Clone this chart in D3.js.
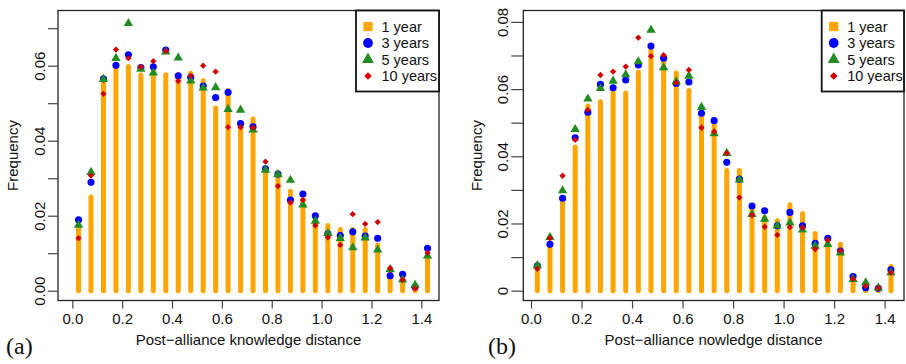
<!DOCTYPE html>
<html>
<head>
<meta charset="utf-8">
<script src="https://cdn.jsdelivr.net/npm/d3@7"></script>
<style>
  body { margin: 0; background: #fff; }
  svg { display: block; }
  text { font-family: "Liberation Sans", Arial, sans-serif; fill: #111; }
</style>
</head>
<body>
<svg width="906" height="364"></svg>
<script>
// *** Data ***
var binMids = [0.025, 0.075, 0.125, 0.175, 0.225, 0.275, 0.325, 0.375, 0.425, 0.475,
               0.525, 0.575, 0.625, 0.675, 0.725, 0.775, 0.825, 0.875, 0.925, 0.975,
               1.025, 1.075, 1.125, 1.175, 1.225, 1.275, 1.325, 1.375, 1.425];

var seriesNames = ["1 year", "3 years", "5 years", "10 years"];

// panel (a)
var year1A = [0.0165, 0.025, 0.0553, 0.059, 0.0598, 0.0575, 0.0583, 0.0576, 0.0575, 0.058,
              0.056, 0.0487, 0.0534, 0.044, 0.0458, 0.0316, 0.0315, 0.0265, 0.0243, 0.0192,
              0.0174, 0.0163, 0.0163, 0.0163, 0.0122, 0.0053, 0.0038, 0.0008, 0.0085];
var year3A = [0.0189, 0.0289, 0.0565, 0.0601, 0.0629, 0.0595, 0.0597, 0.0642, 0.0573, 0.0569,
              0.0546, 0.0515, 0.0529, 0.0446, 0.0437, 0.0325, 0.0311, 0.0242, 0.0258, 0.0200,
              0.0152, 0.0147, 0.0157, 0.0146, 0.014, 0.004, 0.0044, 0.001, 0.0113];
var year5A = [0.0175, 0.0316, 0.0564, 0.062, 0.0713, 0.0591, 0.0581, 0.0637, 0.0621, 0.056,
              0.0541, 0.0542, 0.0484, 0.0482, 0.0429, 0.0322, 0.031, 0.0295, 0.0229, 0.0186,
              0.0153, 0.014, 0.0115, 0.0141, 0.0109, 0.0057, 0.0029, 0.0015, 0.0093];
var year10A = [0.014, 0.0307, 0.0525, 0.0643, 0.062, 0.0597, 0.0612, 0.0639, 0.0559, 0.0573,
               0.06, 0.0584, 0.0436, 0.0436, 0.0435, 0.0344, 0.0279, 0.0235, 0.0242, 0.0174,
               0.0142, 0.0122, 0.0204, 0.0178, 0.0183, 0.006, 0.0029, 0.0006, 0.0101];

// panel (b)
var year1B = [0.0063, 0.0128, 0.0268, 0.0428, 0.055, 0.0562, 0.059, 0.0588, 0.065, 0.0715,
              0.0685, 0.0648, 0.0596, 0.0515, 0.0492, 0.0358, 0.0358, 0.024, 0.0218, 0.0208,
              0.0256, 0.023, 0.017, 0.0145, 0.0138, 0.0033, 0.001, 0.0005, 0.0072];
var year3B = [0.0074, 0.0138, 0.0275, 0.0455, 0.0531, 0.0614, 0.0604, 0.0627, 0.0672, 0.0728,
              0.0692, 0.0617, 0.0621, 0.0528, 0.0506, 0.0382, 0.0332, 0.0252, 0.0238, 0.0193,
              0.0233, 0.0193, 0.0141, 0.0156, 0.0118, 0.0042, 0.0009, 0.0007, 0.0062];
var year5B = [0.0075, 0.0159, 0.0298, 0.048, 0.0571, 0.0602, 0.0624, 0.0643, 0.0682, 0.0776,
              0.0664, 0.0622, 0.0639, 0.0546, 0.0468, 0.0409, 0.033, 0.0227, 0.0213, 0.0193,
              0.0202, 0.0181, 0.0133, 0.0138, 0.0113, 0.0034, 0.0024, 0.0008, 0.0054];
var year10B = [0.0065, 0.0156, 0.0342, 0.0449, 0.0538, 0.0642, 0.0652, 0.0667, 0.0753, 0.0698,
               0.0701, 0.0619, 0.0657, 0.0485, 0.0473, 0.0409, 0.0277, 0.0225, 0.019, 0.0166,
               0.0189, 0.0188, 0.0124, 0.0151, 0.0119, 0.0035, 0.0014, 0.0008, 0.0054];

// tick values / labels
var xTicks = [0, 0.2, 0.4, 0.6, 0.8, 1.0, 1.2, 1.4];
var xTickLabels = ["0.0", "0.2", "0.4", "0.6", "0.8", "1.0", "1.2", "1.4"];
var yTicksA = [0, 0.01, 0.02, 0.03, 0.04, 0.05, 0.06, 0.07];
var yLabelsA = ["0.00", "", "0.02", "", "0.04", "", "0.06", ""];
var yTicksB = [0, 0.01, 0.02, 0.03, 0.04, 0.05, 0.06, 0.07, 0.08];
var yLabelsB = ["0", "", "0.02", "", "0.04", "", "0.06", "", "0.08"];

var colors = ["#FFA500", "#0000FF", "#228B22", "#D00000"];

var svg = d3.select("svg");

function drawPanel(p) {
    var x = d3.scaleLinear().domain(p.xDomain).range([p.left, p.right]);
    var y = d3.scaleLinear().domain(p.yDomain).range([p.bottom, p.top]);
    var g = svg.append("g");

    // *** bars (1 year) ***
    g.selectAll("line.bar")
        .data(p.series[0])
        .enter()
        .append("line")
        .attr("class", "bar")
        .attr("x1", function (d, i) { return x(binMids[i]); })
        .attr("x2", function (d, i) { return x(binMids[i]); })
        .attr("y1", y(0))
        .attr("y2", function (d) { return y(d); })
        .attr("stroke", colors[0])
        .attr("stroke-width", 5)
        .attr("stroke-linecap", "round");

    // *** points ***
    var circ = d3.symbol().type(d3.symbolCircle).size(40);
    var tri = d3.symbol().type(d3.symbolTriangle).size(38);
    var dia = d3.symbol().type(d3.symbolSquare).size(20);
    var shapes = [null, circ, tri, dia];
    [1, 2, 3].forEach(function (s) {
        g.selectAll("path.s" + s)
            .data(p.series[s])
            .enter()
            .append("path")
            .attr("class", "s" + s)
            .attr("d", shapes[s])
            .attr("transform", function (d, i) {
                return "translate(" + x(binMids[i]) + "," + y(d) + ")" + (s === 3 ? " rotate(45)" : "");
            })
            .attr("fill", colors[s]);
    });

    // *** box ***
    g.append("rect")
        .attr("x", p.left).attr("y", p.top)
        .attr("width", p.right - p.left).attr("height", p.bottom - p.top)
        .attr("fill", "none").attr("stroke", "#222").attr("stroke-width", 1.3);

    // *** axes ***
    var xAxis = d3.axisBottom(x).tickValues(xTicks).tickSize(8).tickPadding(5)
        .tickFormat(function (d, i) { return xTickLabels[i]; });
    var xg = g.append("g").attr("transform", "translate(0," + p.bottom + ")").call(xAxis);
    xg.select(".domain").attr("d", "M" + x(xTicks[0]) + ",0H" + x(xTicks[xTicks.length - 1]))
        .attr("stroke", "#222").attr("stroke-width", 1.2);
    xg.selectAll(".tick line").attr("stroke", "#444").attr("stroke-width", 1.2);
    xg.selectAll("text").style("font-size", "15px").attr("fill", "#111");

    var yAxis = d3.axisLeft(y).tickValues(p.yTicks).tickSize(p.tickLen).tickPadding(4)
        .tickFormat(function (d, i) { return p.yLabels[i]; });
    var yg = g.append("g").attr("transform", "translate(" + p.left + ",0)").call(yAxis);
    yg.select(".domain").remove();
    yg.selectAll(".tick line").attr("stroke", "#444").attr("stroke-width", 1.2);
    yg.selectAll("text")
        .style("font-size", "15px").attr("fill", "#111")
        .attr("text-anchor", "middle")
        .attr("dy", null)
        .attr("x", null)
        .attr("transform", "translate(" + (-p.tickLen - 3) + ",0) rotate(-90)");

    // *** titles ***
    g.append("text")
        .attr("transform", "translate(" + p.yTitleX + "," + ((p.top + p.bottom) / 2) + ") rotate(-90)")
        .attr("text-anchor", "middle")
        .style("font-size", "15px")
        .text("Frequency");
    g.append("text")
        .attr("x", (p.left + p.right) / 2).attr("y", 345)
        .attr("text-anchor", "middle")
        .style("font-size", "15px")
        .text(p.xTitle);
    g.append("text")
        .attr("x", p.tagX).attr("y", 354)
        .style("font-family", "'Liberation Serif', serif")
        .style("font-size", "24px")
        .text(p.tag);

    // *** legend ***
    var lg = g.append("g");
    lg.append("rect")
        .attr("x", p.legX).attr("y", p.top)
        .attr("width", p.right - p.legX).attr("height", 81)
        .attr("fill", "#fff").attr("stroke", "#111").attr("stroke-width", 1.8);
    var legShapes = [d3.symbol().type(d3.symbolSquare).size(85), d3.symbol().type(d3.symbolCircle).size(75),
                     d3.symbol().type(d3.symbolTriangle).size(62), d3.symbol().type(d3.symbolSquare).size(30)];
    seriesNames.forEach(function (name, i) {
        var cy = p.top + 16 + i * 16.5;
        lg.append("path")
            .attr("d", legShapes[i])
            .attr("transform", "translate(" + (p.legX + 12) + "," + cy + ")" + (i === 3 ? " rotate(45)" : ""))
            .attr("fill", colors[i]);
        lg.append("text")
            .attr("x", p.legX + 25.5).attr("y", cy + 5)
            .style("font-size", "14.5px")
            .text(name);
    });
}

drawPanel({
    left: 58, right: 439, top: 10.5, bottom: 300.5,
    xDomain: [-0.0574, 1.471], yDomain: [-0.00261, 0.07472],
    series: [year1A, year3A, year5A, year10A],
    yTicks: yTicksA, yLabels: yLabelsA, tickLen: 10,
    yTitleX: 18, xTitle: "Post\u2212alliance knowledge distance",
    tag: "(a)", tagX: 6, legX: 356
});

drawPanel({
    left: 523.3, right: 904, top: 10.5, bottom: 300.5,
    xDomain: [-0.0305, 1.4767], yDomain: [-0.00292, 0.08339],
    series: [year1B, year3B, year5B, year10B],
    yTicks: yTicksB, yLabels: yLabelsB, tickLen: 12,
    yTitleX: 482, xTitle: "Post\u2212alliance nowledge distance",
    tag: "(b)", tagX: 488, legX: 821.7
});
</script>
</body>
</html>
